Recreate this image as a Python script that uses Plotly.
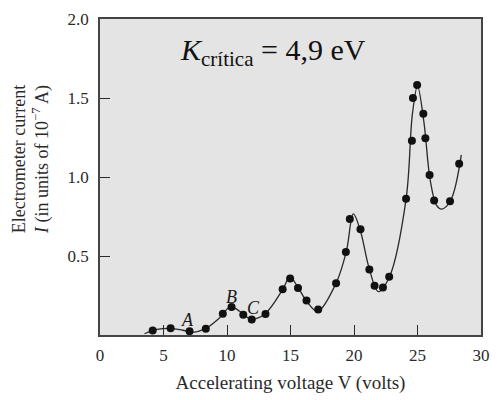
import plotly.graph_objects as go

# Measured points (accelerating voltage in V, electrometer current in 1e-7 A)
volts = [4.15, 5.56, 7.05, 8.33, 9.67, 10.36, 11.28, 11.95, 13.03, 14.38, 14.97,
         15.59, 16.26, 17.18, 18.59, 19.36, 19.67, 20.51, 21.21, 21.62, 22.28,
         22.77, 24.10, 24.56, 24.64, 24.97, 25.46, 25.62, 25.95, 26.31, 27.56, 28.28]
current = [0.029, 0.043, 0.024, 0.039, 0.135, 0.177, 0.128, 0.098, 0.133, 0.290, 0.357,
           0.298, 0.218, 0.161, 0.328, 0.526, 0.734, 0.669, 0.414, 0.312, 0.300,
           0.369, 0.862, 1.229, 1.500, 1.582, 1.400, 1.246, 1.013, 0.852, 0.846, 1.084]

# Hand-drawn smooth curve
curve_x = [3.5, 4.5, 5.5, 6.5, 7.3, 8.3, 9.3, 10.3, 11.0, 11.9, 13.0, 14.4, 14.95,
           15.6, 16.3, 17.13, 18.6, 19.4, 19.95, 20.5, 21.2, 21.92, 22.8, 24.1,
           24.6, 25.0, 25.5, 26.0, 26.5, 26.9, 27.6, 28.45]
curve_y = [0.008, 0.035, 0.042, 0.030, 0.017, 0.040, 0.100, 0.180, 0.150, 0.100,
           0.135, 0.290, 0.367, 0.300, 0.210, 0.149, 0.330, 0.530, 0.766, 0.660,
           0.420, 0.275, 0.370, 0.860, 1.400, 1.575, 1.350, 0.980, 0.820, 0.797,
           0.850, 1.140]

point_labels = ["A", "B", "C"]
label_x = [6.87, 10.38, 12.05]
label_y = [0.098, 0.240, 0.173]

x_ticks = [0, 5, 10, 15, 20, 25, 30]
y_ticks = [0.5, 1.0, 1.5, 2.0]
y_tick_text = ["0.5", "1.0", "1.5", "2.0"]

FONT = "Liberation Serif"
INK = "#2a2a2a"

fig = go.Figure()
fig.add_trace(go.Scatter(x=curve_x, y=curve_y, mode="lines",
                         line=dict(color="#2a2a2a", width=1.3, shape="spline", smoothing=1.0),
                         hoverinfo="skip", showlegend=False))
fig.add_trace(go.Scatter(x=volts, y=current, mode="markers",
                         marker=dict(color="#111111", size=8),
                         showlegend=False))

for t, xv, yv in zip(point_labels, label_x, label_y):
    fig.add_annotation(x=xv, y=yv, text="<i>%s</i>" % t, showarrow=False,
                       font=dict(family=FONT, size=18, color="#1a1a1a"))

fig.add_annotation(xref="paper", yref="paper", x=0.455, y=0.895,
                   text="<i>K</i><sub>crítica</sub> = 4,9 eV", showarrow=False,
                   xanchor="center", yanchor="middle",
                   font=dict(family=FONT, size=30, color="#111111"))

# y-axis title (placed as rotated annotation to match the reference position)
fig.add_annotation(xref="paper", yref="paper", x=-0.183, y=0.555,
                   text="Electrometer current<br><i>I</i> (in units of 10<sup>−7</sup> A)",
                   showarrow=False, textangle=-90, xanchor="center", yanchor="middle",
                   font=dict(family=FONT, size=18, color=INK))

fig.update_layout(
    width=500, height=400,
    margin=dict(l=100, r=10, t=14, b=59),
    paper_bgcolor="white",
    plot_bgcolor="#e4e4e4",
    font=dict(family=FONT, size=17, color=INK),
    xaxis=dict(range=[0, 30], tickvals=x_ticks, ticks="inside", ticklen=10,
               tickcolor=INK, tickwidth=1.2, showgrid=False, zeroline=False,
               showline=True, linecolor="#444444", linewidth=1.5, mirror=True,
               ticklabelstandoff=4,
               title=dict(text="Accelerating voltage V (volts)",
                          font=dict(family=FONT, size=19, color=INK), standoff=12)),
    yaxis=dict(range=[0, 2.0], tickvals=y_ticks, ticktext=y_tick_text, ticks="inside",
               ticklen=10, tickcolor=INK, tickwidth=1.2, showgrid=False, zeroline=False,
               showline=True, linecolor="#444444", linewidth=1.5, mirror=True,
               ticklabelstandoff=6),
)

fig.write_html("out.html")
